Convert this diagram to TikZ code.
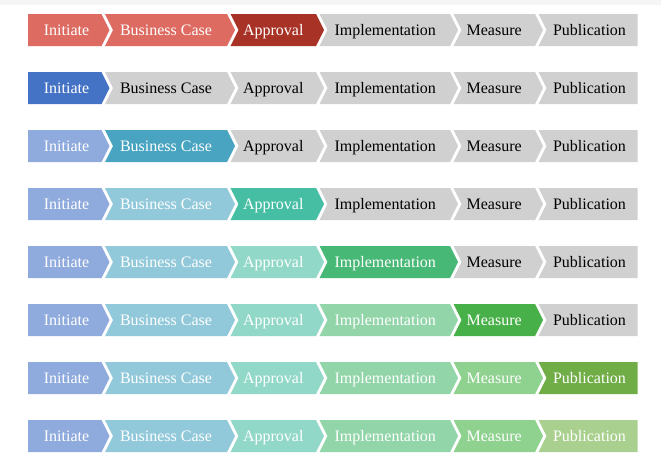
\documentclass[tikz,border=0pt]{standalone}
\usepackage{fontspec}
\setmainfont{Liberation Serif}

% stage colours
\definecolor{cTopBand}{HTML}{F5F5F5}
\definecolor{cTodo}{HTML}{D0D0D0}
\definecolor{cRedDone}{HTML}{DE6B61}
\definecolor{cRedNow}{HTML}{A93226}
\definecolor{cBlueNow}{HTML}{4472C4}
\definecolor{cInitDone}{HTML}{8FAADC}
\definecolor{cCaseNow}{HTML}{48A4C1}
\definecolor{cCaseDone}{HTML}{91C9DA}
\definecolor{cApprNow}{HTML}{46BEA4}
\definecolor{cApprDone}{HTML}{91D8C8}
\definecolor{cImplNow}{HTML}{48B876}
\definecolor{cImplDone}{HTML}{91D5A9}
\definecolor{cMeasNow}{HTML}{48B048}
\definecolor{cMeasDone}{HTML}{8FD18F}
\definecolor{cPubNow}{HTML}{70AD47}
\definecolor{cPubDone}{HTML}{A9D08E}

\tikzset{
  seglabel/.style={font=\fontsize{12}{14}\selectfont, inner sep=0pt, anchor=base},
  sTodo/.style={fill=cTodo, text=black},
  sRedDone/.style={fill=cRedDone, text=white},
  sRedNow/.style={fill=cRedNow, text=white},
  sBlueNow/.style={fill=cBlueNow, text=white},
  sInitDone/.style={fill=cInitDone, text=white},
  sCaseNow/.style={fill=cCaseNow, text=white},
  sCaseDone/.style={fill=cCaseDone, text=white},
  sApprNow/.style={fill=cApprNow, text=white},
  sApprDone/.style={fill=cApprDone, text=white},
  sImplNow/.style={fill=cImplNow, text=white},
  sImplDone/.style={fill=cImplDone, text=white},
  sMeasNow/.style={fill=cMeasNow, text=white},
  sMeasDone/.style={fill=cMeasDone, text=white},
  sPubNow/.style={fill=cPubNow, text=white},
  sPubDone/.style={fill=cPubDone, text=white},
}

% #1 node name, #2 top y, #3 left x, #4 right x, #5 notch depth,
% #6 tip depth, #7 style, #8 label centre x, #9 label
\newcommand\chevseg[9]{%
  \fill[#7] (#3,#2) -- (#4,#2) -- ({#4+#6},{#2+16}) -- (#4,{#2+32})
    -- (#3,{#2+32}) -- ({#3+#5},{#2+16}) -- cycle;
  \node[seglabel,#7,fill=none] (#1) at (#8,{#2+21}) {#9};
}

\begin{document}
\begin{tikzpicture}[x=0.75pt,y=-0.75pt]
\useasboundingbox (0,0) rectangle (661,461);
\fill[cTopBand] (0,0) rectangle (661,4.7);

\foreach \ry/\sa/\sb/\sc/\sd/\se/\sf [count=\i] in {
  14/sRedDone/sRedDone/sRedNow/sTodo/sTodo/sTodo,
  72/sBlueNow/sTodo/sTodo/sTodo/sTodo/sTodo,
  130/sInitDone/sCaseNow/sTodo/sTodo/sTodo/sTodo,
  188/sInitDone/sCaseDone/sApprNow/sTodo/sTodo/sTodo,
  246/sInitDone/sCaseDone/sApprDone/sImplNow/sTodo/sTodo,
  304/sInitDone/sCaseDone/sApprDone/sImplDone/sMeasNow/sTodo,
  362/sInitDone/sCaseDone/sApprDone/sImplDone/sMeasDone/sPubNow,
  420/sInitDone/sCaseDone/sApprDone/sImplDone/sMeasDone/sPubDone} {
  \chevseg{r\i-init}{\ry}{28}{101.5}{0}{8}{\sa}{66.5}{Initiate}
  \chevseg{r\i-case}{\ry}{105}{227}{8}{8}{\sb}{166}{Business Case}
  \chevseg{r\i-appr}{\ry}{230.5}{316}{8}{8}{\sc}{273.3}{Approval}
  \chevseg{r\i-impl}{\ry}{319.5}{450}{8}{8}{\sd}{385.3}{Implementation}
  \chevseg{r\i-meas}{\ry}{453.5}{535}{8}{8}{\se}{494.2}{Measure}
  \chevseg{r\i-pub}{\ry}{538.5}{637.5}{8}{0}{\sf}{589.5}{Publication}
}
\end{tikzpicture}
\end{document}
